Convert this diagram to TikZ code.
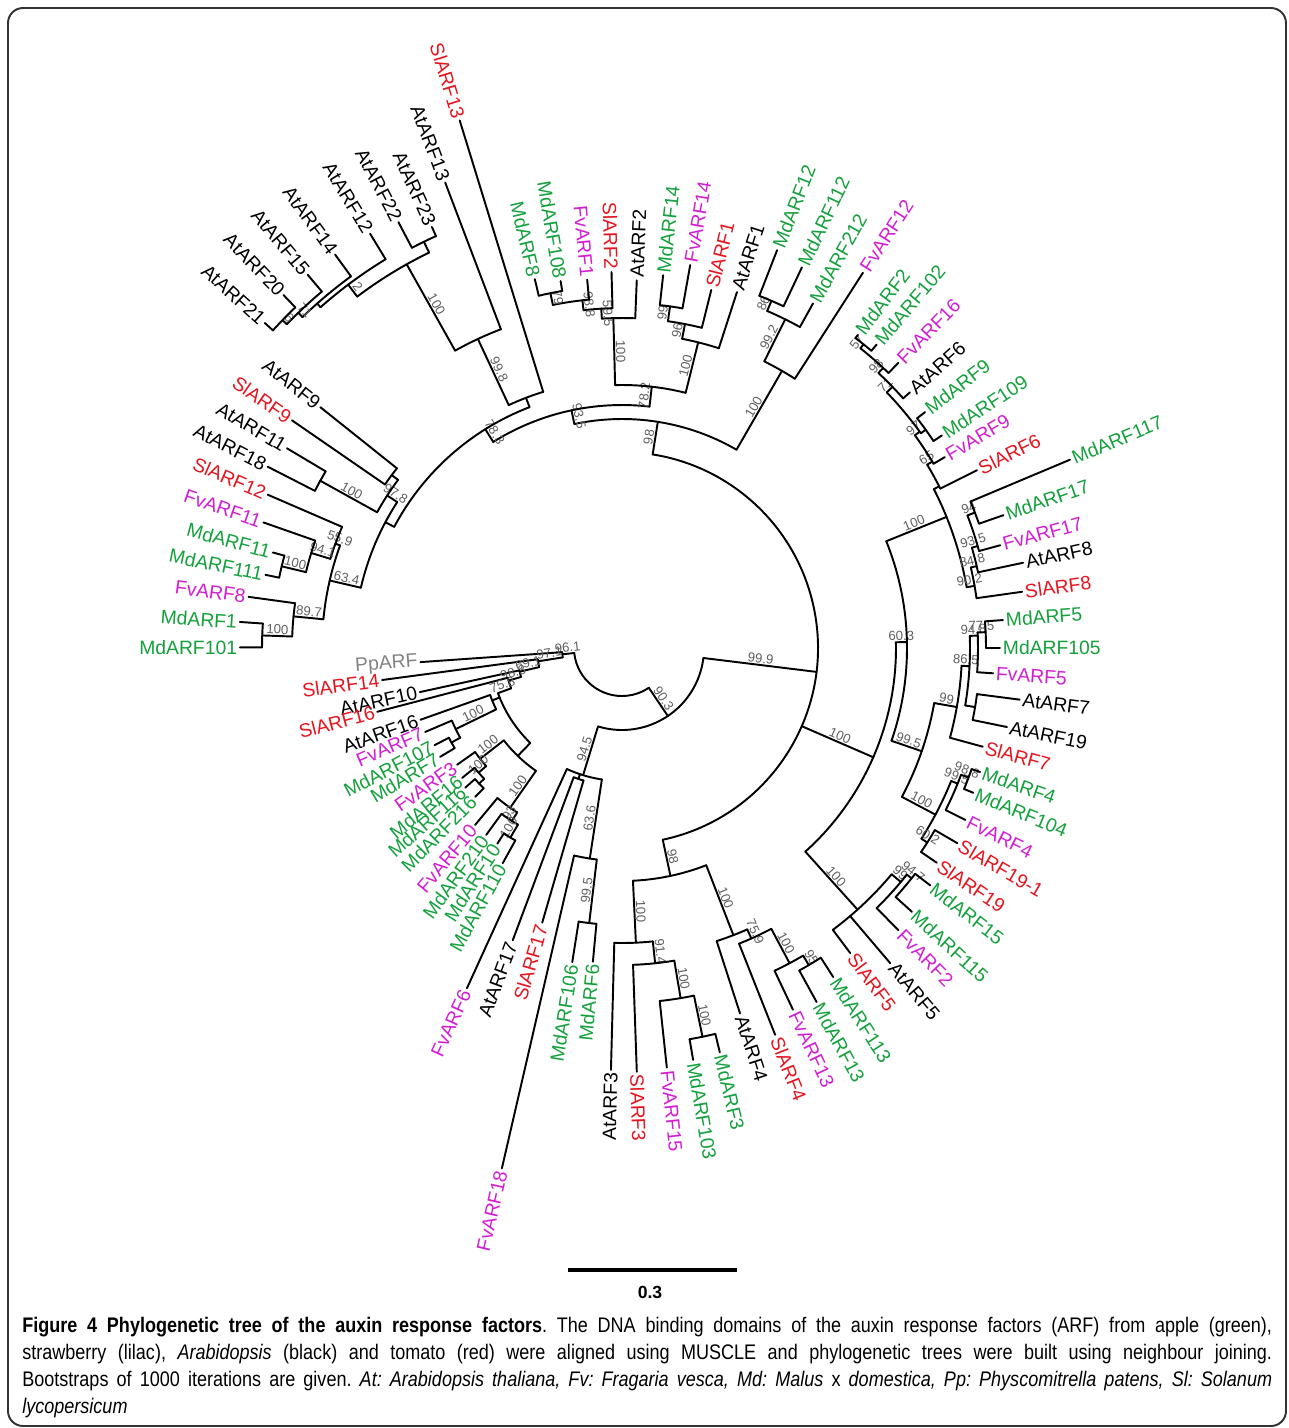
\documentclass[tikz,border=0pt]{standalone}
\usepackage{fontspec}
\setmainfont{Liberation Sans}
\newfontfamily\capfont{Liberation Sans}[FakeStretch=0.855]
\definecolor{mdgreen}{RGB}{20,160,60}
\definecolor{fvmag}{RGB}{210,30,210}
\definecolor{slred}{RGB}{230,20,30}
\definecolor{ppgray}{RGB}{130,130,130}
\definecolor{bsgray}{RGB}{95,95,95}
\tikzset{
  branch/.style={line width=1.1pt, line cap=round},
  leafname/.style={font=\fontsize{11}{12}\selectfont, inner sep=1.5pt},
  bsval/.style={font=\fontsize{7.5}{8}\selectfont, text=bsgray, inner sep=0.8pt},
}
\newcount\bscount
% radial branch: angle, inner r, outer r
\newcommand{\brad}[3]{\draw[branch] (#1:#2) -- (#1:#3);}
% node arc: from angle, to angle, r
\newcommand{\barc}[3]{\draw[branch] (#1:#3) arc[start angle=#1, end angle=#2, radius=#3];}
% leaf: name, angle, inner r, tip r, colour, text
\newcommand{\bleaf}[6]{%
  \draw[branch] (#2:#3) -- (#2:#4) coordinate (t#1);
  \pgfmathtruncatemacro\lft{cos(#2)<0}%
  \ifnum\lft=1
    \node[leafname, text=#5, rotate=#2+180, anchor=east] (#1) at (t#1) {#6};
  \else
    \node[leafname, text=#5, rotate=#2, anchor=west] (#1) at (t#1) {#6};
  \fi}
% bootstrap value on a radial branch: angle, r1, r2, value
\newcommand{\bval}[4]{%
  \global\advance\bscount by 1
  \pgfmathtruncatemacro\lft{cos(#1)<0}%
  \ifnum\lft=1 \def\brot{#1+180}\else\def\brot{#1}\fi
  \node[bsval, rotate=\brot, anchor=south] (bs\the\bscount) at (#1:{(#2+#3)/2}) {#4};}
\begin{document}
\begin{tikzpicture}[x=0.02cm, y=-0.02cm]
\useasboundingbox (0,0) rectangle (1289,1428);
\draw[line width=1.1pt, black!80, rounded corners=0.3cm] (8,8) rectangle (1286,1426);

\begin{scope}[shift={(622,648)}, y=0.02cm]
% root and spine
\barc{186}{304}{48}
\brad{304}{48}{82} \bval{304}{48}{82}{90.3}
\barc{253}{353}{82}
\brad{353}{82}{196} \bval{353}{82}{196}{99.9}
\barc{-78}{81}{196}

% top clade
\brad{81}{196}{229} \bval{81}{196}{229}{98}
\barc{60}{102}{229}
\brad{102}{229}{243} \bval{102}{229}{243}{93.5}
\barc{83.5}{122}{243}
\brad{83.5}{243}{263} \bval{83.5}{243}{263}{78.2}
\barc{76}{91.5}{263}
\brad{91.5}{263}{330} \bval{91.5}{263}{330}{100}
\barc{87.7}{93.5}{330}
\bleaf{AtARF2}{87.7}{330}{368}{black}{AtARF2}
\brad{93.5}{330}{340} \bval{93.5}{330}{340}{59.5}
\barc{91.6}{96.5}{340}
\bleaf{SlARF2}{91.6}{340}{376}{slred}{SlARF2}
\brad{96.5}{340}{350} \bval{96.5}{340}{350}{98.8}
\barc{95.4}{101.4}{350}
\bleaf{FvARF1}{95.4}{350}{370}{fvmag}{FvARF1}
\brad{101.4}{350}{362} \bval{101.4}{350}{362}{79}
\barc{99.5}{103.3}{362}
\bleaf{MdARF108}{99.5}{362}{372}{mdgreen}{MdARF108}
\bleaf{MdARF8}{103.3}{362}{379}{mdgreen}{MdARF8}
\brad{76}{263}{315} \bval{76}{263}{315}{100}
\barc{72.1}{79}{315}
\bleaf{AtARF1}{72.1}{315}{374}{black}{AtARF1}
\brad{79}{315}{330} \bval{79}{315}{330}{96}
\barc{76}{82}{330}
\bleaf{SlARF1}{76}{330}{369}{slred}{SlARF1}
\brad{82}{330}{345} \bval{82}{330}{345}{99}
\barc{79.9}{83.7}{345}
\bleaf{MdARF14}{83.7}{345}{375}{mdgreen}{MdARF14}
\bleaf{FvARF14}{79.9}{345}{389}{fvmag}{FvARF14}
\brad{60}{229}{320} \bval{60}{229}{320}{100}
\barc{57.3}{63.6}{320}
\bleaf{FvARF12}{57.3}{320}{446}{fvmag}{FvARF12}
\brad{63.6}{320}{367} \bval{63.6}{320}{367}{99.2}
\barc{61}{66.7}{367}
\bleaf{MdARF212}{61}{367}{394}{mdgreen}{MdARF212}
\brad{66.7}{367}{378} \bval{66.7}{367}{378}{86}
\barc{64.7}{68.7}{378}
\bleaf{MdARF112}{64.7}{378}{421}{mdgreen}{MdARF112}
\bleaf{MdARF12}{68.7}{378}{427}{mdgreen}{MdARF12}

% top left clade
\brad{122}{243}{258} \bval{122}{243}{258}{78.3}
\barc{111}{152}{258}
\brad{111}{258}{268}
\barc{107.1}{115}{268}
\bleaf{SlARF13}{107.1}{268}{552}{slred}{SlARF13}
\brad{115}{268}{341} \bval{115}{268}{341}{99.8}
\barc{110.8}{119.3}{341}
\bleaf{AtARF13}{110.8}{341}{498}{black}{AtARF13}
\brad{119.3}{341}{440} \bval{119.3}{341}{440}{100}
\barc{116}{127}{440}
\brad{116}{440}{452}
\barc{114.3}{117.7}{452}
\bleaf{AtARF23}{114.3}{452}{462}{black}{AtARF23}
\bleaf{AtARF22}{117.7}{452}{481}{black}{AtARF22}
\brad{127}{440}{455} \bval{127}{440}{455}{2}
\barc{121.3}{131.5}{455}
\bleaf{AtARF12}{121.3}{455}{485}{black}{AtARF12}
\brad{131.5}{455}{460}
\barc{126.1}{134}{460}
\bleaf{AtARF14}{126.1}{460}{487}{black}{AtARF14}
\brad{134}{460}{466} \bval{134}{460}{466}{71}
\barc{130.1}{136}{466}
\bleaf{AtARF15}{130.1}{466}{488}{black}{AtARF15}
\brad{136}{466}{472} \bval{136}{466}{472}{6}
\barc{133.8}{137.7}{472}
\bleaf{AtARF20}{133.8}{472}{489}{black}{AtARF20}
\bleaf{AtARF21}{137.7}{472}{483}{black}{AtARF21}

% left clade
\brad{152}{258}{268}
\barc{147}{167}{268}
\brad{147}{268}{280} \bval{147}{268}{280}{97.8}
\barc{143.1}{151}{280}
\brad{143.1}{280}{288}
\barc{141.4}{145.4}{288}
\bleaf{AtARF9}{141.4}{288}{386}{black}{AtARF9}
\bleaf{SlARF9}{145.4}{288}{401}{slred}{SlARF9}
\brad{151}{280}{345} \bval{151}{280}{345}{100}
\barc{149.2}{152.9}{345}
\bleaf{AtARF11}{149.2}{345}{390}{black}{AtARF11}
\bleaf{AtARF18}{152.9}{345}{398}{black}{AtARF18}
\brad{167}{268}{300} \bval{167}{268}{300}{63.4}
\barc{160}{174.5}{300}
\brad{160}{300}{305} \bval{160}{300}{305}{55.9}
\barc{156.6}{163}{305}
\bleaf{SlARF12}{156.6}{305}{386}{slred}{SlARF12}
\brad{163}{305}{325} \bval{163}{305}{325}{94.1}
\barc{160.7}{166.5}{325}
\bleaf{FvARF11}{160.7}{325}{380}{fvmag}{FvARF11}
\brad{166.5}{325}{350} \bval{166.5}{325}{350}{100}
\barc{164.7}{168.4}{350}
\bleaf{MdARF11}{164.7}{350}{362}{mdgreen}{MdARF11}
\bleaf{MdARF111}{168.4}{350}{364}{mdgreen}{MdARF111}
\brad{174.5}{300}{330} \bval{174.5}{300}{330}{89.7}
\barc{172.2}{178}{330}
\bleaf{FvARF8}{172.2}{330}{377}{fvmag}{FvARF8}
\brad{178}{330}{360} \bval{178}{330}{360}{100}
\barc{176.1}{179.9}{360}
\bleaf{MdARF1}{176.1}{360}{383}{mdgreen}{MdARF1}
\bleaf{MdARF101}{179.9}{360}{382}{mdgreen}{MdARF101}

% right clade
\brad{-23.5}{196}{274} \bval{-23.5}{196}{274}{100}
\barc{-48}{1.2}{274}
\brad{1.2}{274}{285} \bval{1.2}{274}{285}{60.3}
\barc{-19}{22}{285}
\brad{22}{285}{350} \bval{22}{285}{350}{100}
\barc{10}{27}{350}
\brad{27}{350}{356}
\barc{26.6}{31}{356}
\bleaf{SlARF6}{26.6}{356}{397}{slred}{SlARF6}
\brad{31}{356}{362} \bval{31}{356}{362}{65}
\barc{30.6}{36}{362}
\bleaf{FvARF9}{30.6}{362}{375}{fvmag}{FvARF9}
\brad{36}{362}{368} \bval{36}{362}{368}{97}
\barc{35.7}{44}{368}
\brad{35.7}{368}{374}
\barc{33.6}{37.9}{374}
\bleaf{MdARF109}{33.6}{374}{384}{mdgreen}{MdARF109}
\bleaf{MdARF9}{37.9}{374}{384}{mdgreen}{MdARF9}
\brad{44}{368}{376} \bval{44}{368}{376}{71}
\barc{41.6}{47}{376}
\bleaf{AtARF6}{41.6}{376}{385}{black}{AtARF6}
\brad{47}{376}{383} \bval{47}{376}{383}{98}
\barc{45.9}{51.5}{383}
\bleaf{FvARF16}{45.9}{383}{397}{fvmag}{FvARF16}
\brad{51.5}{383}{388} \bval{51.5}{383}{388}{57}
\barc{50}{53}{388}
\bleaf{MdARF102}{50}{388}{396}{mdgreen}{MdARF102}
\bleaf{MdARF2}{53}{388}{392}{mdgreen}{MdARF2}
\brad{10}{350}{358} \bval{10}{350}{358}{90.2}
\barc{8}{13}{358}
\bleaf{SlARF8}{8}{358}{404}{slred}{SlARF8}
\brad{13}{358}{364} \bval{13}{358}{364}{84.8}
\barc{12}{16}{364}
\bleaf{AtARF8}{12}{364}{410}{black}{AtARF8}
\brad{16}{364}{370} \bval{16}{364}{370}{93.5}
\barc{15.2}{21}{370}
\bleaf{FvARF17}{15.2}{370}{392}{fvmag}{FvARF17}
\brad{21}{370}{378} \bval{21}{370}{378}{94}
\barc{19.2}{22.8}{378}
\bleaf{MdARF17}{19.2}{378}{404}{mdgreen}{MdARF17}
\bleaf{MdARF117}{22.8}{378}{486}{mdgreen}{MdARF117}
\brad{-19}{285}{317} \bval{-19}{285}{317}{99.5}
\barc{-28}{-10}{317}
\brad{-10}{317}{340} \bval{-10}{317}{340}{99}
\barc{-15.3}{-3}{340}
\bleaf{SlARF7}{-15.3}{340}{374}{slred}{SlARF7}
\brad{-3}{340}{348} \bval{-3}{340}{348}{86.5}
\barc{-9.5}{2}{348}
\brad{-9.5}{348}{358}
\barc{-11.6}{-7.4}{358}
\bleaf{AtARF7}{-7.4}{358}{401}{black}{AtARF7}
\bleaf{AtARF19}{-11.6}{358}{393}{black}{AtARF19}
\brad{2}{348}{356} \bval{2}{348}{356}{94.8}
\barc{-3.9}{2.5}{356}
\bleaf{FvARF5}{-3.9}{356}{372}{fvmag}{FvARF5}
\brad{2.5}{356}{364} \bval{2.5}{356}{364}{77.5}
\barc{0}{4.2}{364}
\bleaf{MdARF105}{0}{364}{378}{mdgreen}{MdARF105}
\bleaf{MdARF5}{4.2}{364}{382}{mdgreen}{MdARF5}
\brad{-28}{317}{355} \bval{-28}{317}{355}{100}
\barc{-32.5}{-22}{355}
\brad{-22}{355}{362} \bval{-22}{355}{362}{99.5}
\barc{-26.6}{-20.5}{362}
\bleaf{FvARF4}{-26.6}{362}{384}{fvmag}{FvARF4}
\brad{-20.5}{362}{370} \bval{-20.5}{362}{370}{98.8}
\barc{-22.4}{-19.1}{370}
\bleaf{MdARF4}{-19.1}{370}{379}{mdgreen}{MdARF4}
\bleaf{MdARF104}{-22.4}{370}{380}{mdgreen}{MdARF104}
\brad{-32.5}{355}{362} \bval{-32.5}{355}{362}{60.2}
\barc{-34.3}{-30.2}{362}
\bleaf{SlARF19a}{-30.2}{362}{388}{slred}{SlARF19-1}
\bleaf{SlARF19}{-34.3}{362}{381}{slred}{SlARF19}
\brad{-48}{274}{352} \bval{-48}{274}{352}{100}
\barc{-53.2}{-40}{352}
\bleaf{SlARF5}{-53.2}{352}{381}{slred}{SlARF5}
\bleaf{AtARF5}{-49.6}{352}{414}{black}{AtARF5}
\brad{-40}{352}{364} \bval{-40}{352}{364}{99}
\barc{-45.6}{-38.5}{364}
\bleaf{FvARF2}{-45.6}{364}{395}{fvmag}{FvARF2}
\brad{-38.5}{364}{370} \bval{-38.5}{364}{370}{94.7}
\barc{-42.3}{-37.6}{370}
\bleaf{MdARF15}{-37.6}{370}{389}{mdgreen}{MdARF15}
\bleaf{MdARF115}{-42.3}{370}{392}{mdgreen}{MdARF115}

% bottom clade
\brad{-78}{196}{233} \bval{-78}{196}{233}{98}
\barc{-87.3}{-68.8}{233}
\brad{-87.3}{233}{295} \bval{-87.3}{233}{295}{100}
\barc{-91.5}{-84}{295}
\bleaf{AtARF3}{-91.5}{295}{422}{black}{AtARF3}
\brad{-84}{295}{317} \bval{-84}{295}{317}{91.4}
\barc{-88}{-80.5}{317}
\bleaf{SlARF3}{-88}{317}{424}{slred}{SlARF3}
\brad{-80.5}{317}{355} \bval{-80.5}{317}{355}{100}
\barc{-83.9}{-78.3}{355}
\bleaf{FvARF15}{-83.9}{355}{422}{fvmag}{FvARF15}
\brad{-78.3}{355}{397} \bval{-78.3}{355}{397}{100}
\barc{-80.2}{-76.4}{397}
\bleaf{MdARF103}{-80.2}{397}{418}{mdgreen}{MdARF103}
\bleaf{MdARF3}{-76.4}{397}{416}{mdgreen}{MdARF3}
\brad{-68.8}{233}{308} \bval{-68.8}{233}{308}{100}
\barc{-72.1}{-66}{308}
\bleaf{AtARF4}{-72.1}{308}{384}{black}{AtARF4}
\brad{-66}{308}{318} \bval{-66}{308}{318}{75.9}
\barc{-68.4}{-62}{318}
\bleaf{SlARF4}{-68.4}{318}{416}{slred}{SlARF4}
\brad{-62}{318}{357} \bval{-62}{318}{357}{100}
\barc{-64.7}{-59.5}{357}
\bleaf{FvARF13}{-64.7}{357}{400}{fvmag}{FvARF13}
\brad{-59.5}{357}{368} \bval{-59.5}{357}{368}{95}
\barc{-61.2}{-57.3}{368}
\bleaf{MdARF13}{-61.2}{368}{404}{mdgreen}{MdARF13}
\bleaf{MdARF113}{-57.3}{368}{391}{mdgreen}{MdARF113}

% ARF17 clade
\brad{253}{82}{133} \bval{253}{82}{133}{94.5}
\barc{245.5}{261.3}{133}
\bleaf{FvARF6}{245.5}{133}{374}{fvmag}{FvARF6}
\brad{251.6}{133}{138}
\barc{249.5}{253.8}{138}
\bleaf{AtARF17}{249.5}{138}{312}{black}{AtARF17}
\bleaf{SlARF17}{253.8}{138}{286}{slred}{SlARF17}
\brad{261.3}{133}{213} \bval{261.3}{133}{213}{63.6}
\barc{257}{263.2}{213}
\bleaf{FvARF18}{257}{213}{534}{fvmag}{FvARF18}
\brad{263.2}{213}{277} \bval{263.2}{213}{277}{99.5}
\barc{261}{264.7}{277}
\bleaf{MdARF106}{261}{277}{318}{mdgreen}{MdARF106}
\bleaf{MdARF6}{264.7}{277}{315}{mdgreen}{MdARF6}

% inner left clade
\brad{186}{48}{60} \bval{186}{48}{60}{96.1}
\barc{184}{189}{60}
\bleaf{PpARF}{184}{60}{202}{ppgray}{PpARF}
\brad{189}{60}{85} \bval{189}{60}{85}{97.1}
\barc{187.6}{193}{85}
\bleaf{SlARF14}{187.6}{85}{242}{slred}{SlARF14}
\brad{193}{85}{105} \bval{193}{85}{105}{69.1}
\barc{192.3}{196}{105}
\bleaf{AtARF10}{192.3}{105}{207}{black}{AtARF10}
\brad{196}{105}{118} \bval{196}{105}{118}{98.3}
\barc{194.6}{200}{118}
\bleaf{SlARF16}{194.6}{118}{253}{slred}{SlARF16}
\brad{200}{118}{132} \bval{200}{118}{132}{75.8}
\barc{200}{226}{132}
\brad{202}{132}{140}
\barc{199.6}{206}{140}
\bleaf{AtARF16}{199.6}{140}{214}{black}{AtARF16}
\brad{206}{140}{185} \bval{206}{140}{185}{100}
\barc{203.1}{209}{185}
\bleaf{FvARF7}{203.1}{185}{214}{fvmag}{FvARF7}
\brad{209}{185}{195}
\barc{207.4}{210.9}{195}
\bleaf{MdARF107}{207.4}{195}{211}{mdgreen}{MdARF107}
\bleaf{MdARF7}{210.9}{195}{212}{mdgreen}{MdARF7}
\brad{226}{132}{150}
\barc{218}{235}{150}
\brad{218}{150}{180} \bval{218}{150}{180}{100}
\barc{215.3}{221}{180}
\bleaf{FvARF3}{215.3}{180}{202}{fvmag}{FvARF3}
\brad{221}{180}{190} \bval{221}{180}{190}{100}
\barc{219.1}{223.5}{190}
\bleaf{MdARF16}{219.1}{190}{206}{mdgreen}{MdARF16}
\brad{223.5}{190}{197}
\barc{221.7}{225.4}{197}
\bleaf{MdARF116}{221.7}{197}{210}{mdgreen}{MdARF116}
\bleaf{MdARF216}{225.4}{197}{209}{mdgreen}{MdARF216}
\brad{235}{150}{195} \bval{235}{150}{195}{100}
\barc{230.3}{237.5}{195}
\bleaf{FvARF10}{230.3}{195}{230}{fvmag}{FvARF10}
\brad{237.5}{195}{205} \bval{237.5}{195}{205}{93}
\barc{234}{239.5}{205}
\bleaf{MdARF210}{234}{205}{231}{mdgreen}{MdARF210}
\brad{239.5}{205}{220} \bval{239.5}{205}{220}{100}
\barc{237.5}{241}{220}
\bleaf{MdARF10}{237.5}{220}{232}{mdgreen}{MdARF10}
\bleaf{MdARF110}{241}{220}{246}{mdgreen}{MdARF110}
\end{scope}

% scale bar
\coordinate (sbL) at (568,1270);
\coordinate (sbR) at (737,1270);
\draw[line width=1.8pt] (sbL) -- (sbR);
\node[font=\bfseries\fontsize{10}{11}\selectfont] (sbtext) at (650,1292) {0.3};

% caption
\node[anchor=north west, text width=25cm, align=justify, inner sep=0pt,
  font=\capfont\fontsize{12}{15.4}\selectfont] (caption) at (22,1317)
  {\frenchspacing\textbf{Figure 4 Phylogenetic tree of the auxin response factors}. The DNA binding domains of the auxin response factors (ARF) from apple (green),\linebreak
  strawberry (lilac), \textit{Arabidopsis} (black) and tomato (red) were aligned using MUSCLE and phylogenetic trees were built using neighbour joining.\linebreak
  Bootstraps of 1000 iterations are given. \textit{At: Arabidopsis thaliana, Fv: Fragaria vesca, Md: Malus} x \textit{domestica, Pp: Physcomitrella patens, Sl: Solanum}\linebreak
  \textit{lycopersicum}};
\end{tikzpicture}
\end{document}
